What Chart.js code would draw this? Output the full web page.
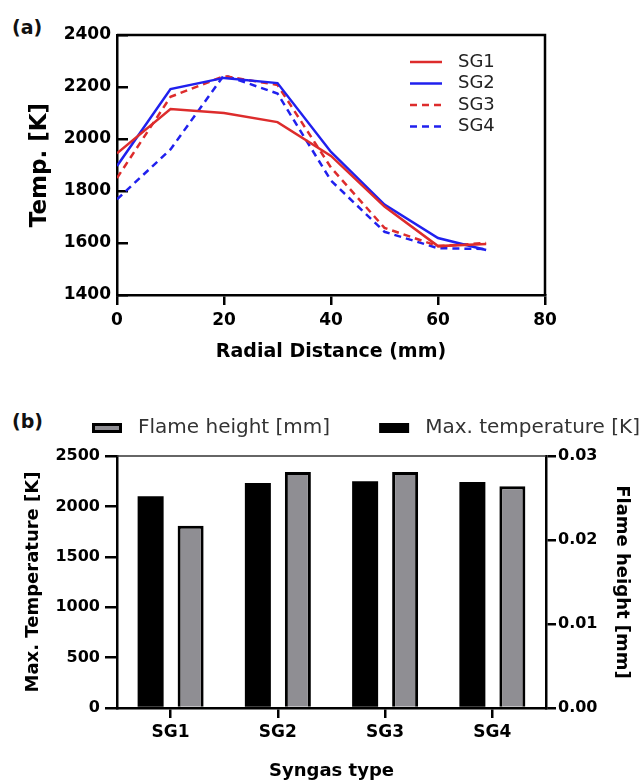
<!DOCTYPE html>
<html>
<head>
<meta charset="utf-8">
<script src="https://cdn.jsdelivr.net/npm/chart.js@4.4.0/dist/chart.umd.min.js"></script>
<style>
body{margin:0;background:#fff;width:641px;height:783px;position:relative;overflow:hidden;font-family:'DejaVu Sans',sans-serif}
.tag{position:absolute;font-weight:bold;font-size:19px;color:#111;line-height:22px}
#chartA{position:absolute;left:0;top:0}
#chartB{position:absolute;left:0;top:380px}
</style>
</head>
<body>
<div class="tag" style="left:12px;top:16px">(a)</div>
<div class="tag" style="left:12px;top:410px">(b)</div>
<canvas id="chartA" width="641" height="370"></canvas>
<canvas id="chartB" width="641" height="403"></canvas>
<script>
// (a) temperature profiles
const radial = [0, 10, 20, 30, 40, 50, 60, 69];
const sg1 = [1945, 2115, 2100, 2065, 1935, 1740, 1588, 1596];
const sg2 = [1896, 2192, 2235, 2215, 1950, 1748, 1619, 1573];
const sg3 = [1850, 2162, 2242, 2208, 1890, 1658, 1588, 1600];
const sg4 = [1768, 1960, 2246, 2175, 1840, 1643, 1580, 1577];

// (b) bars
const syngas = ['SG1', 'SG2', 'SG3', 'SG4'];
const maxTemp = [2100, 2232, 2250, 2242];
const flameHeight = [0.0217, 0.0281, 0.0281, 0.0264];

const RED = '#dd2c2c', BLUE = '#2020ee';
Chart.defaults.font.family = "'DejaVu Sans', sans-serif";
Chart.defaults.color = '#000';

const pts = arr => radial.map((x, i) => ({x: x, y: arr[i]}));
const bold = s => ({size: s, weight: 'bold'});
const plain = v => String(v);

const frame = {
  id: 'frame',
  afterDraw(chart, args, o) {
    const ctx = chart.ctx, a = chart.chartArea;
    ctx.save();
    ctx.strokeStyle = o.color;
    ctx.lineWidth = o.width;
    ctx.beginPath();
    ctx.moveTo(a.left, a.top);
    ctx.lineTo(a.right, a.top);
    if (o.right) ctx.lineTo(a.right, a.bottom);
    ctx.stroke();
    ctx.restore();
  }
};

const keyA = {
  id: 'keyA',
  afterDraw(chart, args, o) {
    const ctx = chart.ctx;
    ctx.save();
    ctx.font = o.font;
    ctx.textBaseline = 'middle';
    ctx.fillStyle = '#222';
    chart.data.datasets.forEach((ds, i) => {
      const y = o.y + i * o.step;
      ctx.strokeStyle = ds.borderColor;
      ctx.lineWidth = ds.borderWidth;
      ctx.setLineDash(ds.borderDash || []);
      ctx.beginPath();
      ctx.moveTo(o.x, y);
      ctx.lineTo(o.x + o.len, y);
      ctx.stroke();
      ctx.fillText(ds.label, o.x + o.len + o.gap, y);
    });
    ctx.restore();
  }
};

const keyB = {
  id: 'keyB',
  afterDraw(chart, args, o) {
    const ctx = chart.ctx;
    ctx.save();
    ctx.font = o.font;
    ctx.textBaseline = 'middle';
    let x = o.x;
    chart.data.datasets.slice().reverse().forEach(ds => {
      ctx.fillStyle = ds.borderColor;
      ctx.fillRect(x, o.y - 5, 30, 10);
      ctx.fillStyle = ds.backgroundColor;
      ctx.fillRect(x + 3, o.y - 2, 24, 4);
      ctx.fillStyle = '#333';
      ctx.fillText(ds.label, x + 46, o.y);
      x += 46 + ctx.measureText(ds.label).width + 49;
    });
    ctx.restore();
  }
};

new Chart(document.getElementById('chartA'), {
  type: 'line',
  data: {
    datasets: [
      {label: 'SG1', data: pts(sg1), borderColor: RED, borderWidth: 2.5},
      {label: 'SG2', data: pts(sg2), borderColor: BLUE, borderWidth: 2.5},
      {label: 'SG3', data: pts(sg3), borderColor: RED, borderWidth: 2.5, borderDash: [7, 5]},
      {label: 'SG4', data: pts(sg4), borderColor: BLUE, borderWidth: 2.5, borderDash: [7, 5]}
    ]
  },
  options: {
    responsive: false,
    animation: false,
    layout: {padding: {top: 35, right: 96, left: 0, bottom: 0}},
    elements: {point: {radius: 0}, line: {tension: 0}},
    plugins: {
      legend: {display: false},
      tooltip: {enabled: false},
      frame: {color: '#000', width: 2.5, right: true},
      keyA: {x: 410, y: 62, step: 21.5, len: 32, gap: 16, font: "18px 'DejaVu Sans'"}
    },
    scales: {
      x: {
        type: 'linear', min: 0, max: 80,
        ticks: {stepSize: 20, font: bold(17), padding: 5, color: '#000', callback: plain},
        grid: {drawOnChartArea: false, drawTicks: true, tickLength: 10, color: '#000', lineWidth: 2.5},
        border: {color: '#000', width: 2.5},
        title: {display: true, text: 'Radial Distance (mm)', font: bold(19), color: '#000', padding: {top: 0, bottom: 7}},
        afterFit(s) { s.height = 75; }
      },
      y: {
        min: 1400, max: 2400,
        ticks: {stepSize: 200, font: bold(17), padding: 17, color: '#000', callback: plain},
        grid: {drawOnChartArea: false, drawTicks: true, tickLength: -11, color: '#000', lineWidth: 2.5},
        border: {color: '#000', width: 2.5},
        title: {display: true, text: 'Temp. [K]', font: bold(23), color: '#000', padding: {top: 26, bottom: 0}},
        afterFit(s) { s.width = 117; }
      }
    }
  },
  plugins: [frame, keyA]
});

new Chart(document.getElementById('chartB'), {
  type: 'bar',
  data: {
    labels: syngas,
    datasets: [
      {label: 'Max. temperature [K]', data: maxTemp, backgroundColor: '#000', borderColor: '#000', borderWidth: 0, yAxisID: 'y'},
      {label: 'Flame height [mm]', data: flameHeight, backgroundColor: '#8f8e93', borderColor: '#000', borderWidth: 3, yAxisID: 'y1'}
    ]
  },
  options: {
    responsive: false,
    animation: false,
    categoryPercentage: 0.746,
    barPercentage: 0.65,
    layout: {padding: {top: 76, right: 0, left: 0, bottom: 0}},
    plugins: {
      legend: {display: false},
      tooltip: {enabled: false},
      frame: {color: '#333', width: 1.5, right: false},
      keyB: {x: 92, y: 48, font: "20px 'DejaVu Sans'"}
    },
    scales: {
      x: {
        ticks: {font: bold(17), padding: 4, color: '#000'},
        grid: {offset: false, drawOnChartArea: false, drawTicks: true, tickLength: 10, color: '#000', lineWidth: 2.5},
        border: {color: '#000', width: 2.5},
        title: {display: true, text: 'Syngas type', font: bold(18), color: '#000', padding: {top: 0, bottom: 1}},
        afterFit(s) { s.height = 75; }
      },
      y: {
        position: 'left', min: 0, max: 2500,
        ticks: {stepSize: 500, font: bold(16), padding: 5, color: '#000', callback: plain},
        grid: {drawOnChartArea: false, drawTicks: true, tickLength: 12, color: '#000', lineWidth: 2.5},
        border: {color: '#000', width: 2.5},
        title: {display: true, text: 'Max. Temperature [K]', font: bold(18), color: '#000', padding: {top: 23, bottom: 0}},
        afterFit(s) { s.width = 117; }
      },
      y1: {
        position: 'right', min: 0, max: 0.03,
        ticks: {stepSize: 0.01, font: bold(16), padding: 2, color: '#000', callback: v => Number(v).toFixed(2)},
        grid: {drawOnChartArea: false, drawTicks: true, tickLength: 10, color: '#000', lineWidth: 2.5},
        border: {color: '#000', width: 2.5},
        title: {display: true, text: 'Flame height [mm]', font: bold(18), color: '#000', padding: {top: 9, bottom: 0}},
        afterFit(s) { s.width = 95; }
      }
    }
  },
  plugins: [frame, keyB]
});
</script>
</body>
</html>
